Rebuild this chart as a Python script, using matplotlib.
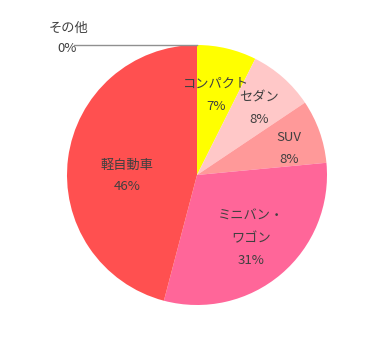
import numpy as np
import matplotlib.pyplot as plt

plt.rcParams['font.family'] = ['Noto Sans CJK JP', 'DejaVu Sans']

# shares (%), clockwise from 12 o'clock
categories = ['コンパクト', 'セダン', 'SUV', 'ミニバン・\nワゴン', '軽自動車', 'その他']
values = [7.4, 8.2, 7.9, 30.6, 45.9, 0.0]
pct_labels = ['7%', '8%', '8%', '31%', '46%', '0%']
colors = ['#FFFF00', '#FFC8C8', '#FF9999', '#FF6699', '#FF5050', '#B0B0B0']

W, H = 378, 351
cx, cy, r = 197, 175, 130  # pie center / radius in pixels

fig = plt.figure(figsize=(W / 100, H / 100), dpi=100)
ax = fig.add_axes([0, 0, 1, 1])

wedges, _ = ax.pie(values, colors=colors, startangle=90, counterclock=False,
                   radius=1.0, wedgeprops=dict(linewidth=0))
ax.set_aspect('auto')
ax.set_xlim(-cx / r, (W - cx) / r)
ax.set_ylim(-(H - cy) / r, cy / r)
ax.axis('off')

# label distances per slice (fraction of radius) and extra downward shift (px)
dists = [0.63, 0.72, 0.75, 0.64, 0.54]
shifts = [0, 4, 6, 0, 10]
txt_col = '#404040'
for w, name, pct, d, s in zip(wedges[:5], categories[:5], pct_labels[:5], dists, shifts):
    ang = np.deg2rad((w.theta1 + w.theta2) / 2)
    x, y = d * np.cos(ang), d * np.sin(ang) - s / r
    ax.text(x, y, name + '\n' + pct, ha='center', va='center',
            fontsize=9.5, color=txt_col, linespacing=1.9)

# zero slice with leader line
w = wedges[5]
ang = np.deg2rad(w.theta1)
x0, y0 = np.cos(ang), np.sin(ang)
ax.plot([x0, -0.95], [y0, y0], color='#909090', lw=1)
ax.text(-1.0, y0 - 0.025, pct_labels[5], ha='center', va='center',
        fontsize=9.5, color=txt_col)
ax.text(-0.985, y0 + 0.13, categories[5], ha='center', va='center',
        fontsize=9.5, color=txt_col)

fig.savefig('out.png', dpi=100)
